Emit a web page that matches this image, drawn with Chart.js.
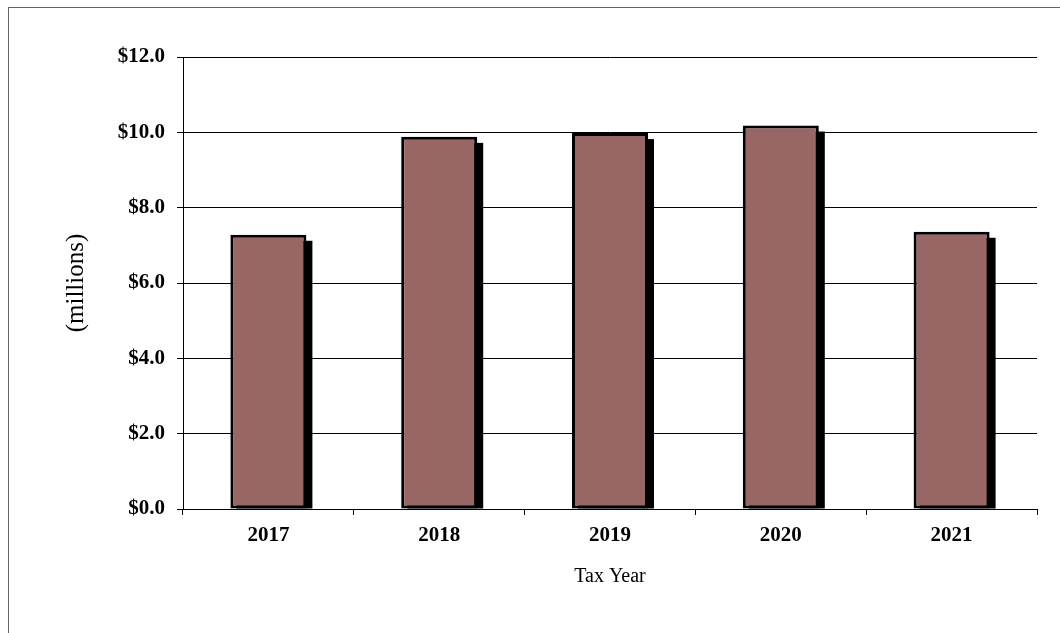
<!DOCTYPE html>
<html>
<head>
<meta charset="utf-8">
<script src="https://cdn.jsdelivr.net/npm/chart.js@4/dist/chart.umd.min.js"></script>
<style>
  html, body { margin: 0; padding: 0; background: #fff; }
  #wrap { position: relative; width: 1060px; height: 633px; overflow: hidden; }
  #frame { position: absolute; left: 8px; top: 7px; width: 1100px; height: 700px;
           border-left: 1px solid #666; border-top: 1px solid #666; }
  canvas { position: absolute; left: 0; top: 0; }
</style>
</head>
<body>
<div id="wrap">
  <div id="frame"></div>
  <canvas id="chartTax" width="1060" height="633"></canvas>
</div>
<script>
const years = ['2017', '2018', '2019', '2020', '2021']
const amounts = [7.28, 9.88, 9.98, 10.18, 7.36]
const yTicks = [0, 2, 4, 6, 8, 10, 12]

const serif = "'Liberation Serif', 'Times New Roman', serif"

// black drop shadow behind each bar, offset down-right
const barShadow = {
    id: 'barShadow',
    beforeDatasetsDraw(chart) {
        const ctx = chart.ctx
        const meta = chart.getDatasetMeta(0)
        ctx.save()
        ctx.fillStyle = '#000'
        meta.data.forEach(bar => {
            const { x, y, base, width } = bar.getProps(['x', 'y', 'base', 'width'], true)
            ctx.fillRect(x - width / 2 + 6, y + 6, width, base - y - 6)
        })
        ctx.restore()
    }
}

const ctxTax = document.getElementById('chartTax').getContext('2d')
const chartTax = new Chart(ctxTax, {
    type: 'bar',
    data: {
        labels: years,
        datasets: [{
            data: amounts,
            backgroundColor: '#996666',
            borderColor: '#000',
            borderWidth: 3,
            borderSkipped: false,
            categoryPercentage: 1,
            barPercentage: 0.445
        }]
    },
    plugins: [barShadow],
    options: {
        responsive: false,
        animation: false,
        layout: { padding: { top: 57, right: 23, left: 0, bottom: 0 } },
        plugins: {
            legend: { display: false },
            tooltip: { enabled: false }
        },
        scales: {
            x: {
                afterFit: scale => { scale.height = 124 },
                grid: {
                    offset: true,
                    drawOnChartArea: false,
                    drawTicks: true,
                    tickLength: 6,
                    color: '#000'
                },
                border: { color: '#000', width: 1 },
                ticks: {
                    color: '#000',
                    padding: 8,
                    font: { family: serif, size: 21, weight: 'bold' }
                },
                title: {
                    display: true,
                    text: 'Tax Year',
                    color: '#000',
                    padding: { top: 0, bottom: 44 },
                    font: { family: serif, size: 20 }
                }
            },
            y: {
                min: 0,
                max: 12,
                afterFit: scale => { scale.width = 183 },
                afterBuildTicks: scale => {
                    scale.ticks = yTicks.map(v => ({ value: v }))
                },
                grid: {
                    color: '#000',
                    tickLength: 6,
                    drawTicks: true
                },
                border: { color: '#000', width: 1 },
                ticks: {
                    color: '#000',
                    padding: 12,
                    font: { family: serif, size: 21, weight: 'bold' },
                    callback: v => '$' + Number(v).toFixed(1)
                },
                title: {
                    display: true,
                    text: '(millions)',
                    color: '#000',
                    padding: { top: 61, bottom: 0 },
                    font: { family: serif, size: 25 }
                }
            }
        }
    }
})
</script>
</body>
</html>
